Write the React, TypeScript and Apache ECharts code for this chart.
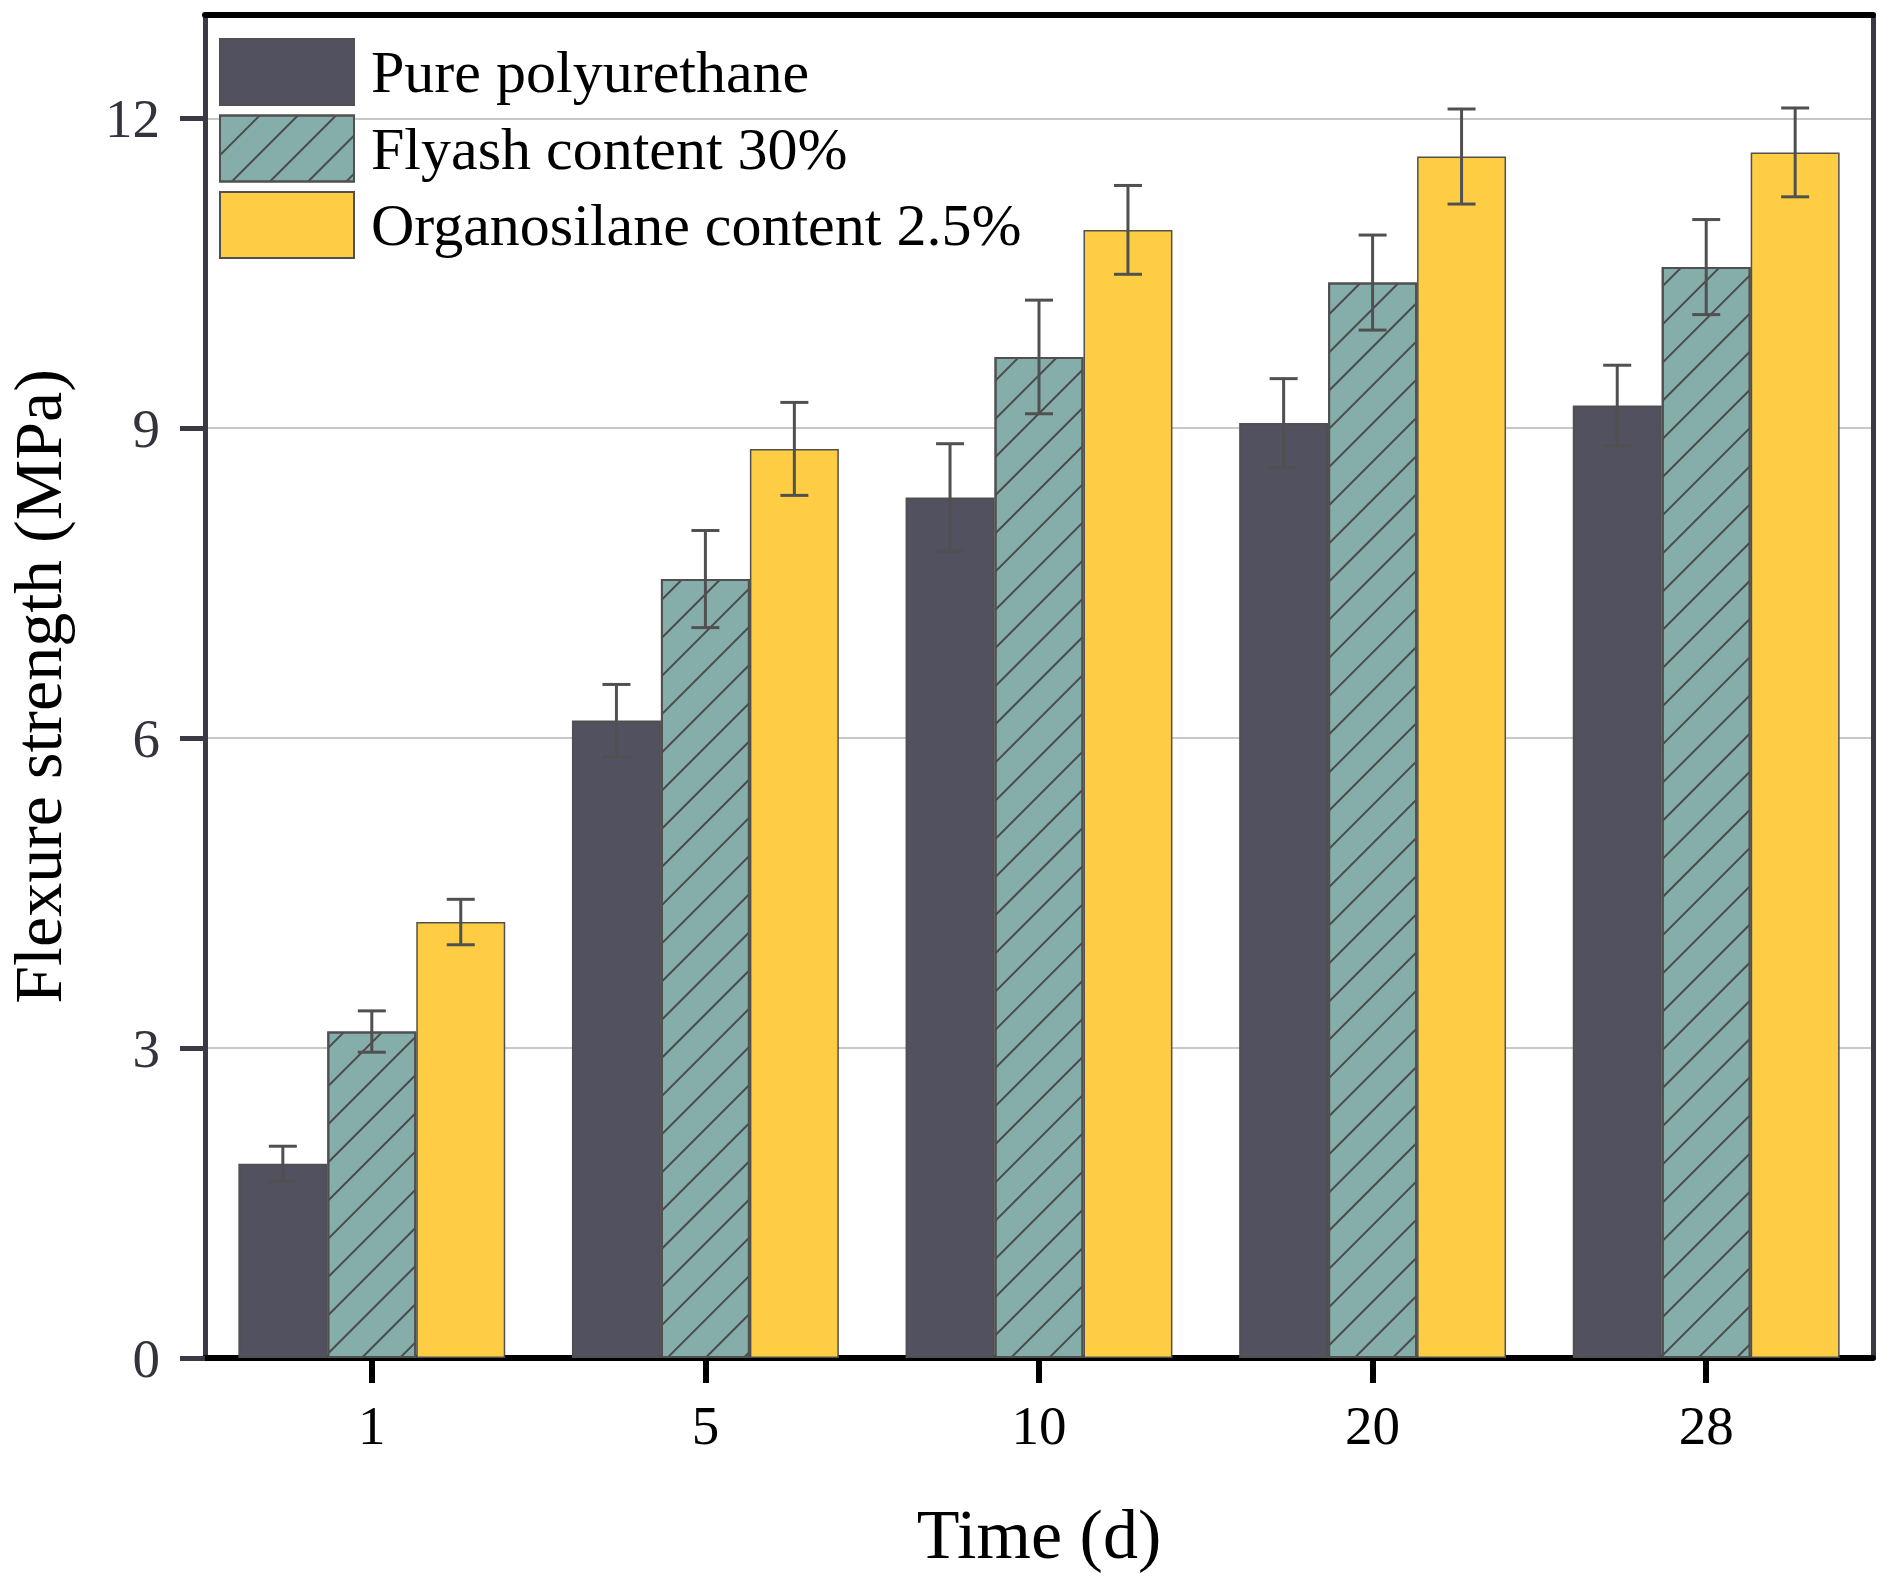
import React, { useEffect, useRef } from "react";
import * as echarts from "echarts";

const categories = ["1", "5", "10", "20", "28"];
const seriesNames = ["Pure polyurethane", "Flyash content 30%", "Organosilane content 2.5%"];
const pureValues = [1.88, 6.17, 8.33, 9.05, 9.22];
const pureErrors = [0.17, 0.35, 0.52, 0.43, 0.39];
const flyashValues = [3.16, 7.54, 9.69, 10.41, 10.56];
const flyashErrors = [0.2, 0.47, 0.55, 0.46, 0.46];
const organoValues = [4.22, 8.8, 10.92, 11.63, 11.67];
const organoErrors = [0.22, 0.45, 0.43, 0.46, 0.43];
const yTicks = [0, 3, 6, 9, 12];

const FONT = '"Liberation Serif", "Times New Roman", Times, serif';

export default function App() {
  const ref = useRef<HTMLDivElement>(null);

  useEffect(() => {
    if (!ref.current) return;
    const chart = echarts.init(ref.current, undefined, { renderer: "svg" });

    const allValues = [pureValues, flyashValues, organoValues];
    const allErrors = [pureErrors, flyashErrors, organoErrors];
    const errData: number[][] = [];
    allValues.forEach((vals, s) => {
      vals.forEach((v, i) => errData.push([i, v, allErrors[s][i], s]));
    });

    const border = "#505050";
    const axisDark = "#3a3944";

    const option: any = {
      animation: false,
      backgroundColor: "#ffffff",
      textStyle: { fontFamily: FONT },
      grid: {
        left: 205,
        right: 27,
        top: 15,
        bottom: 226,
        containLabel: false,
        outerBoundsMode: "none",
      },
      legend: {
        data: seriesNames,
        left: 219,
        top: 38,
        padding: 0,
        orient: "vertical",
        itemWidth: 134,
        itemHeight: 66,
        itemGap: 8.5,
        icon: "rect",
        textStyle: { fontFamily: FONT, fontSize: 60, color: "#000", padding: [0, 0, 0, 12] },
      },
      xAxis: [
        {
          type: "category",
          data: categories,
          position: "bottom",
          name: "Time (d)",
          nameLocation: "middle",
          nameGap: 141,
          nameTextStyle: { fontFamily: FONT, fontSize: 70, color: "#000" },
          axisLine: { show: true, onZero: false, lineStyle: { color: "#000", width: 6 } },
          axisTick: { show: true, alignWithLabel: true, length: 25, lineStyle: { color: "#000", width: 6 } },
          axisLabel: { fontFamily: FONT, fontSize: 55, color: "#000", margin: 40 },
          splitLine: { show: false },
        },
        {
          type: "category",
          data: categories,
          position: "top",
          axisLine: { show: true, onZero: false, lineStyle: { color: "#000", width: 6 } },
          axisTick: { show: false },
          axisLabel: { show: false },
          splitLine: { show: false },
        },
      ],
      yAxis: [
        {
          type: "value",
          min: 0,
          max: 13,
          interval: 1.5,
          name: "Flexure strength (MPa)",
          nameLocation: "middle",
          nameGap: 133,
          nameTextStyle: { fontFamily: FONT, fontSize: 68, color: "#000" },
          axisLine: { show: true, onZero: false, lineStyle: { color: axisDark, width: 5 } },
          axisTick: {
            show: true,
            length: 25,
            customValues: yTicks,
            lineStyle: { color: axisDark, width: 5 },
          },
          axisLabel: {
            fontFamily: FONT,
            fontSize: 55,
            color: "#33333d",
            margin: 45,
            customValues: yTicks,
            formatter: (v: number) => (yTicks.indexOf(v) >= 0 ? String(v) : ""),
          },
          splitLine: { show: true, lineStyle: { color: "#c8c8c8", width: 2 } },
        },
        {
          type: "value",
          min: 0,
          max: 13,
          position: "right",
          axisLine: { show: true, onZero: false, lineStyle: { color: axisDark, width: 5 } },
          axisTick: { show: false },
          axisLabel: { show: false },
          splitLine: { show: false },
        },
      ],
      series: [
        {
          name: seriesNames[0],
          type: "bar",
          data: pureValues,
          barGap: "0%",
          barCategoryGap: "20%",
          itemStyle: { color: "#52515f", borderColor: border, borderWidth: 2 },
        },
        {
          name: seriesNames[1],
          type: "bar",
          data: flyashValues,
          barGap: "0%",
          barCategoryGap: "20%",
          itemStyle: {
            color: "#85aeab",
            borderColor: border,
            borderWidth: 2,
            decal: {
              symbol: "rect",
              symbolSize: 1,
              color: "#4a4a4a",
              dashArrayX: [1, 0],
              dashArrayY: [2, 25],
              rotation: -Math.PI / 4,
            },
          },
        },
        {
          name: seriesNames[2],
          type: "bar",
          data: organoValues,
          barGap: "0%",
          barCategoryGap: "20%",
          itemStyle: { color: "#fecd43", borderColor: border, borderWidth: 1.5 },
        },
        {
          type: "custom",
          data: errData,
          encode: { x: 0, y: 1 },
          z: 5,
          silent: true,
          renderItem: (params: any, api: any) => {
            const i = api.value(0);
            const v = api.value(1);
            const e = api.value(2);
            const s = api.value(3);
            const band = api.size([1, 0])[0];
            const bw = (band * 0.8) / 3;
            const c = api.coord([i, v]);
            const x = c[0] + (s - 1) * bw;
            const yTop = api.coord([i, v + e])[1];
            const yBot = api.coord([i, v - e])[1];
            const half = 14;
            const style = { stroke: "#505050", lineWidth: 3 };
            return {
              type: "group",
              children: [
                { type: "line", shape: { x1: x, y1: yTop, x2: x, y2: yBot }, style },
                { type: "line", shape: { x1: x - half, y1: yTop, x2: x + half, y2: yTop }, style },
                { type: "line", shape: { x1: x - half, y1: yBot, x2: x + half, y2: yBot }, style },
              ],
            };
          },
        },
      ],
    };

    chart.setOption(option);
    return () => {
      chart.dispose();
    };
  }, []);

  return (
    <div
      ref={ref}
      style={{ position: "fixed", left: 0, top: 0, width: 1900, height: 1584, background: "#fff" }}
    />
  );
}
